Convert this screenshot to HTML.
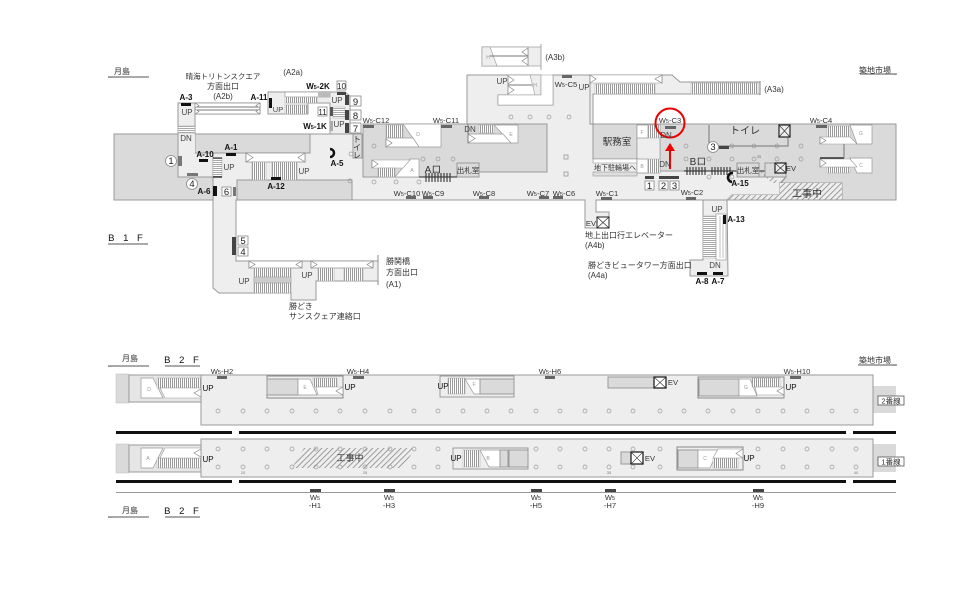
<!DOCTYPE html>
<html><head><meta charset="utf-8"><style>
html,body{margin:0;padding:0;background:#fff}
svg{display:block;filter:blur(.3px)}
text{font-family:"Liberation Sans","Noto Sans CJK JP",sans-serif;fill:#333}
.m{text-anchor:middle;font-size:7.6px}
.u{text-anchor:middle;font-size:8px;fill:#444}
.b{text-anchor:middle;font-size:8px;font-weight:bold;fill:#111}
.j{font-size:8px;fill:#333}
.jm{font-size:8px;text-anchor:middle;fill:#333}
.n{text-anchor:middle;font-size:9.5px;fill:#222}
.s{font-size:5.5px}
.f{fill:#eee;stroke:#999;stroke-width:1}
.g{fill:#dadada;stroke:#999;stroke-width:1}
.w{fill:#fff;stroke:#999;stroke-width:.7}
.d{fill:#444}
.sq{fill:#fff;stroke:#888;stroke-width:.8}
.c circle{fill:none;stroke:#999;stroke-width:.7}
.l{stroke:#777;stroke-width:1;fill:none}
.r{fill:#fff;stroke:#888;stroke-width:.7}
.mk{fill:#666}
.vs{fill:url(#vs);stroke:#aaa;stroke-width:.5}
.hs{fill:url(#hs);stroke:#aaa;stroke-width:.5}
.lt{font-size:5px;fill:#999;text-anchor:middle}
.no{font-size:4px;fill:#777;text-anchor:middle}
</style></head><body>
<svg width="960" height="605" viewBox="0 0 960 605" xmlns="http://www.w3.org/2000/svg">
<defs>
<pattern id="vs" width="2" height="4" patternUnits="userSpaceOnUse"><rect width="2" height="4" fill="#fff"/><rect width="1" height="4" fill="#999"/></pattern>
<pattern id="hs" width="4" height="2" patternUnits="userSpaceOnUse"><rect width="4" height="2" fill="#fff"/><rect width="4" height="1" fill="#aaa"/></pattern>
<pattern id="ht" width="4" height="4" patternUnits="userSpaceOnUse" patternTransform="rotate(45)"><rect width=".8" height="4" fill="#888"/></pattern>
</defs>

<!-- B1F base -->
<polygon class="g" points="114,134 178,134 178,177 213,177 213,200 114,200"/>
<polygon class="f" points="178,103 260,103 260,114 195,114 195,134 310,134 310,153 213,153 213,177 178,177"/>
<polygon class="f" points="268,92 345,92 350,96 350,134 330,134 330,103 308,103 308,114 268,114"/>
<polygon class="f" points="213,153 310,153 310,134 363,134 363,124 467,124 467,75 541,75 541,95 498,95 498,105 553,105 553,75 590,75 590,124 593,124 593,159 660,159 660,171 737,171 759,177 786,177 780,183 780,195 732,195 727,200 728,276 690,276 690,260 703,260 703,200 596,200 596,212 609,212 609,228 585,228 585,200 236,200 236,261 378,261 378,281 316,281 316,300 291,300 291,293 219,293 213,288"/>
<polygon class="f" points="590,75 672,75 680,82 760,82 760,94 593,94 593,124 590,124"/>
<polygon fill="#dadada" stroke="#999" points="195,134 310,134 310,153 213,153 195,153"/>
<polygon fill="#eee" points="179,134 195,134 195,153 179,153"/>
<rect x="178" y="126" width="17" height="7" class="hs"/>
<rect x="237" y="180" width="115" height="20" class="g"/>
<polygon class="g" points="363,124 547,124 547,172 479,172 479,177 363,177"/>
<polygon class="g" points="593,124 896,124 896,200 842,200 842,183 781,183 786,177 759,177 737,171 660,171 660,124"/>
<rect x="593" y="124" width="44" height="35" class="g"/>
<rect x="593" y="159" width="67" height="4" fill="#fff" stroke="#999" stroke-width=".6"/>
<rect x="593" y="172" width="44" height="4" fill="#ddd" stroke="#999" stroke-width=".6"/>
<polygon fill="#eee" points="727,200 732,195 780,195 780,183 842,183 842,200"/>
<polygon fill="url(#ht)" points="727,200 732,195 780,195 780,183 842,183 842,200"/>
<polygon fill="url(#ht)" points="760,172 767,172 780,183 772,183"/>
<line x1="703" y1="200" x2="842" y2="200" stroke="#999"/>
<rect x="353" y="134" width="9" height="24" class="g"/>

<!-- A2 stairs -->
<rect x="195" y="103" width="65" height="11" fill="#fff" stroke="#888" stroke-width=".7"/>
<line x1="195" y1="107" x2="260" y2="107" class="l" stroke-width=".6"/><line x1="195" y1="110" x2="260" y2="110" class="l" stroke-width=".6"/>
<polygon class="r" points="195,103 195,108 199,105.5"/><polygon class="r" points="195,109 195,114 199,111.5"/><polygon class="r" points="260,103 260,108 256,105.5"/><polygon class="r" points="260,109 260,114 256,111.5"/>
<rect x="285" y="92" width="45" height="5" fill="#fff" stroke="#888" stroke-width=".6"/><rect x="318" y="92" width="12" height="5" fill="#bbb"/>
<rect x="285" y="97" width="32" height="6" class="vs"/><rect x="285" y="105" width="22" height="9" class="vs"/>
<rect x="333" y="107" width="12" height="11" class="hs"/><rect x="330" y="107" width="3" height="9" fill="#555"/><rect x="330" y="121" width="3" height="10" fill="#aaa"/>
<rect x="345" y="95" width="4" height="10" class="d"/><rect x="345" y="110" width="4" height="10" class="d"/><rect x="345" y="123" width="4" height="10" class="d"/>

<!-- Main stairs -->
<rect x="246" y="153" width="59" height="9" fill="#fff" stroke="#888" stroke-width=".7"/>
<polygon class="r" points="246,153 246,162 253,157.5"/><polygon class="r" points="305,153 305,162 298,157.5"/>
<rect x="252" y="162" width="14" height="18" class="vs"/><rect x="272" y="162" width="25" height="18" class="vs"/>
<rect x="213" y="158" width="9" height="19" class="hs" stroke="#555"/><line x1="213" y1="158" x2="222" y2="158" stroke="#111"/><line x1="213" y1="177" x2="222" y2="177" stroke="#111" stroke-width="1.2"/>

<!-- D, E, A -->
<polygon class="w" points="403,124 441,124 441,147 419,147"/>
<rect x="386" y="125" width="17" height="13" class="vs"/>
<polygon class="w" points="386,138 413,138 419,147 386,147"/><polygon class="r" points="386,139 386,147 392,143"/>
<polygon class="w" points="494,125 518,125 518,143 511,143"/>
<rect x="479" y="125" width="15" height="8" class="vs"/>
<polygon class="w" points="468,134 503,134 511,143 468,143"/><polygon class="r" points="468,134 468,143 475,138.5"/>
<line x1="468" y1="124" x2="468" y2="143" class="l"/>
<polygon class="w" points="410,159 419,159 419,177 395,177"/>
<polygon fill="#fff" stroke="#999" stroke-width=".6" points="372,160 410,160 403,168 372,168"/><polygon class="r" points="372,160 372,168 378,164"/>
<rect x="378" y="168" width="17" height="9" class="vs"/>
<rect x="457" y="163" width="22" height="14" class="g"/>
<g stroke="#222" stroke-width="1"><line x1="419" y1="177" x2="457" y2="177"/><line x1="426" y1="173" x2="426" y2="182"/><line x1="429" y1="173" x2="429" y2="182"/><line x1="432" y1="173" x2="432" y2="182"/><line x1="435" y1="173" x2="435" y2="182"/><line x1="438" y1="173" x2="438" y2="182"/><line x1="441" y1="173" x2="441" y2="182"/><line x1="444" y1="173" x2="444" y2="182"/><line x1="447" y1="173" x2="447" y2="182"/><line x1="450" y1="173" x2="450" y2="182"/></g>

<!-- H stairs -->
<rect x="482" y="47" width="59" height="19" fill="#eee" stroke="#999" stroke-width=".7"/>
<rect x="482" y="47" width="46" height="19" fill="#fff" stroke="#999" stroke-width=".7"/>
<polygon fill="#eee" stroke="#999" stroke-width=".6" points="482,47 490,47 497,66 482,66"/>
<line x1="490" y1="56" x2="528" y2="56" class="l" stroke-width=".6"/>
<polygon class="r" points="528,48 528,56 522,52"/><polygon class="r" points="528,57 528,65 522,61"/>
<line x1="541" y1="44" x2="541" y2="70" stroke="#aaa"/>
<rect x="508" y="75" width="33" height="20" fill="#fff" stroke="#999" stroke-width=".7"/>
<polygon fill="#eee" stroke="#999" stroke-width=".6" points="530,75 541,75 541,95 535,95"/>
<line x1="508" y1="85" x2="532" y2="85" class="l" stroke-width=".6"/>
<polygon class="r" points="508,76 508,84 514,80"/><polygon class="r" points="508,86 508,94 514,90"/>
<polygon fill="#fff" stroke="#999" stroke-width=".6" points="541,75 553,75 553,105 498,105 498,95 541,95"/>

<!-- A3a -->
<polygon fill="#fff" stroke="#999" stroke-width=".6" points="590,75 662,75 662,83 590,83"/>
<polygon class="r" points="590,75 590,83 596,79"/><polygon class="r" points="662,75 662,83 655,79"/>
<rect x="595" y="84" width="35" height="10" class="vs"/><rect x="620" y="84" width="35" height="10" class="vs"/><rect x="691" y="83" width="67" height="11" class="vs"/>
<line x1="760" y1="81" x2="760" y2="95" stroke="#888"/>

<!-- F B G C -->
<rect x="637" y="125" width="23" height="48" fill="#eee" stroke="#999" stroke-width=".7"/>
<polygon class="w" points="637,125 648,125 648,138 637,138"/><rect x="648" y="125" width="12" height="13" class="vs"/>
<polygon class="w" points="637,159 648,159 648,173 637,173"/><rect x="648" y="159" width="12" height="14" class="vs"/>
<polygon class="w" points="850,125 872,125 872,144 857,144"/><rect x="827" y="126" width="23" height="11" class="vs"/>
<polygon fill="#fff" stroke="#999" stroke-width=".6" points="820,137 850,137 857,144 820,144"/><polygon class="r" points="820,137 820,144 826,140.5"/>
<polygon class="w" points="850,158 872,158 872,173 857,173"/><rect x="827" y="167" width="23" height="6" class="vs"/>
<polygon fill="#fff" stroke="#999" stroke-width=".6" points="820,159 850,159 857,167 820,167"/><polygon class="r" points="820,159 820,167 826,163"/>
<line x1="820" y1="158" x2="844" y2="158" stroke="#111" stroke-width="1.2"/><line x1="844" y1="144" x2="844" y2="158" class="l"/>

<!-- toilet, gates -->
<polyline points="709,125 709,146 788,146 788,125" class="l" stroke-width=".8"/>
<g stroke="#222" stroke-width="1"><line x1="684" y1="171" x2="737" y2="171"/><line x1="687" y1="167" x2="687" y2="175"/><line x1="690" y1="167" x2="690" y2="175"/><line x1="693" y1="167" x2="693" y2="175"/><line x1="696" y1="167" x2="696" y2="175"/><line x1="699" y1="167" x2="699" y2="175"/><line x1="702" y1="167" x2="702" y2="175"/><line x1="705" y1="167" x2="705" y2="175"/><line x1="712" y1="167" x2="712" y2="175"/><line x1="715" y1="167" x2="715" y2="175"/><line x1="718" y1="167" x2="718" y2="175"/><line x1="721" y1="167" x2="721" y2="175"/><line x1="724" y1="167" x2="724" y2="175"/><line x1="727" y1="167" x2="727" y2="175"/><line x1="730" y1="167" x2="730" y2="175"/><line x1="759" y1="171" x2="765" y2="171"/></g>
<rect x="737" y="163" width="22" height="14" class="g"/><rect x="765" y="163" width="21" height="14" class="g"/>
<g stroke="#222" fill="#eee"><rect x="775" y="163" width="11" height="10" stroke-width="1.2"/><path d="M775 163l11 10m0-10l-11 10" fill="none" stroke-width=".6"/><rect x="779" y="125" width="11" height="12" stroke-width="1.2"/><path d="M779 125l11 12m0-12l-11 12" fill="none" stroke-width=".6"/><rect x="597" y="217" width="12" height="11" stroke-width="1" fill="#fff"/><path d="M597 217l12 11m0-11l-12 11" fill="none" stroke-width=".6"/></g>

<!-- A1 stairs -->
<rect x="249" y="261" width="53" height="7" fill="#fff" stroke="#888" stroke-width=".7"/><polygon class="r" points="249,261 249,268 255,264.5"/><polygon class="r" points="302,261 302,268 296,264.5"/>
<rect x="311" y="261" width="62" height="7" fill="#fff" stroke="#888" stroke-width=".7"/><polygon class="r" points="311,261 311,268 317,264.5"/><polygon class="r" points="373,261 373,268 367,264.5"/>
<rect x="254" y="268" width="37" height="25" class="vs"/><rect x="254" y="277" width="37" height="6" fill="#ccc" stroke="#999" stroke-width=".5"/>
<rect x="318" y="268" width="16" height="13" class="vs"/><rect x="344" y="268" width="19" height="13" class="vs"/>
<line x1="378" y1="255" x2="378" y2="261" stroke="#888"/><line x1="378" y1="281" x2="378" y2="285" stroke="#888"/>

<!-- A-13 stairs -->
<rect x="703" y="216" width="13" height="42" class="hs"/>
<rect x="716" y="214" width="10" height="46" fill="#fff" stroke="#999" stroke-width=".7"/><line x1="720" y1="216" x2="720" y2="258" stroke="#999" stroke-width=".6"/><line x1="723" y1="216" x2="723" y2="258" stroke="#999" stroke-width=".6"/>

<!-- columns B1 -->
<g class="c">
<circle cx="351" cy="154" r="2"/><circle cx="350" cy="181" r="2"/><circle cx="374" cy="146" r="2"/><circle cx="374" cy="182" r="2"/><circle cx="396" cy="182" r="2"/><circle cx="419" cy="182" r="2"/><circle cx="423" cy="159" r="2"/><circle cx="438" cy="159" r="2"/><circle cx="453" cy="159" r="2"/><circle cx="511" cy="117" r="2"/><circle cx="530" cy="117" r="2"/><circle cx="549" cy="117" r="2"/><circle cx="569" cy="117" r="2"/>
<circle cx="686" cy="146" r="2"/><circle cx="686" cy="159" r="2"/><circle cx="709" cy="159" r="2"/><circle cx="709" cy="177" r="2"/><circle cx="732" cy="146" r="2"/><circle cx="754" cy="146" r="2"/><circle cx="777" cy="146" r="2"/><circle cx="801" cy="146" r="2"/><circle cx="732" cy="159" r="2"/><circle cx="754" cy="159" r="2"/><circle cx="777" cy="159" r="2"/><circle cx="801" cy="159" r="2"/><circle cx="732" cy="177" r="2"/>
</g>
<rect x="564" y="155" width="4" height="4" fill="none" stroke="#999" stroke-width=".8"/><rect x="564" y="172" width="4" height="4" fill="none" stroke="#999" stroke-width=".8"/>

<!-- black/dark markers -->
<g fill="#111"><rect x="181" y="103" width="10" height="3"/><rect x="269" y="98" width="3" height="10"/><rect x="199" y="159" width="9" height="3"/><rect x="226" y="153" width="10" height="3"/><rect x="271" y="177" width="10" height="3"/><rect x="213" y="186" width="4" height="10"/><rect x="723" y="215" width="3" height="9"/><rect x="697" y="272" width="10" height="3"/><rect x="713" y="272" width="10" height="3"/></g>
<g class="d"><rect x="337" y="92" width="9" height="3"/><rect x="178" y="156" width="4" height="10" fill="#777"/><rect x="187" y="173" width="11" height="3" fill="#777"/><rect x="233" y="187" width="3" height="9" fill="#777"/><rect x="232" y="237" width="4" height="18"/><rect x="645" y="176" width="9" height="3"/><rect x="659" y="176" width="20" height="3"/><rect x="719" y="146" width="10" height="3"/></g>
<path d="M330 149a4 4 0 0 1 0 8" fill="none" stroke="#111" stroke-width="2.5"/><path d="M733 173a4.5 4.500 0 0 0 -1 9" fill="none" stroke="#111" stroke-width="2.5"/>
<g class="mk"><rect x="363" y="125" width="11" height="3"/><rect x="441" y="125" width="11" height="3"/><rect x="562" y="75" width="10" height="3"/><rect x="406" y="196" width="10" height="3"/><rect x="423" y="196" width="10" height="3"/><rect x="479" y="196" width="10" height="3"/><rect x="539" y="196" width="10" height="3"/><rect x="553" y="196" width="10" height="3"/><rect x="601" y="197" width="11" height="3"/><rect x="686" y="197" width="10" height="3"/><rect x="665" y="126" width="11" height="3"/><rect x="816" y="125" width="11" height="3"/></g>

<!-- number boxes -->
<g class="sq"><rect x="337" y="81" width="9" height="9"/><rect x="350" y="96" width="11" height="10"/><rect x="350" y="110" width="11" height="10"/><rect x="350" y="123" width="11" height="10"/><rect x="318" y="107" width="9" height="9"/><rect x="222" y="187" width="9" height="9"/><rect x="238" y="236" width="10" height="9"/><rect x="238" y="247" width="10" height="9"/><rect x="645" y="181" width="9" height="9"/><rect x="659" y="181" width="9" height="9"/><rect x="670" y="181" width="9" height="9"/><circle cx="171" cy="161" r="5.5"/><circle cx="192" cy="184" r="5.5"/><circle cx="713" cy="147" r="5.5"/></g>

<!-- red -->
<circle cx="670" cy="123" r="14.5" fill="none" stroke="#e00" stroke-width="2"/>
<line x1="670" y1="169" x2="670" y2="148" stroke="#e00" stroke-width="2"/><polygon points="670,143 665,151 675,151" fill="#e00"/>

<!-- B1 labels -->
<text x="122" y="74" class="jm">月島</text><line x1="108" y1="77" x2="149" y2="77" stroke="#555"/><path d="M108 78l6-1h-2z" fill="#333"/>
<text x="875" y="73" class="jm">築地市場</text><line x1="860" y1="74" x2="897" y2="74" stroke="#555"/><path d="M897 75l-6-1h2z" fill="#333"/>
<text x="223" y="79" class="jm" style="font-size:7.5px">晴海トリトンスクエア</text><text x="223" y="89" class="jm">方面出口</text><text x="223" y="99" class="jm">(A2b)</text><text x="293" y="75" class="jm">(A2a)</text>
<text x="555" y="60" class="jm">(A3b)</text><text x="774" y="92" class="jm">(A3a)</text>
<text x="127" y="241" text-anchor="middle" font-size="9.5" letter-spacing="3" style="fill:#111">B 1 F</text><line x1="108" y1="244" x2="148" y2="244" stroke="#555"/>
<text x="318" y="89" class="b">W<tspan class="s">5</tspan>-2K</text><text x="315" y="129" class="b">W<tspan class="s">5</tspan>-1K</text>
<text x="186" y="100" class="b">A-3</text><text x="259" y="100" class="b">A-11</text><text x="205" y="157" class="b">A-10</text><text x="231" y="150" class="b">A-1</text><text x="337" y="166" class="b">A-5</text><text x="276" y="189" class="b">A-12</text><text x="204" y="194" class="b">A-6</text><text x="740" y="186" class="b">A-15</text><text x="736" y="222" class="b">A-13</text><text x="702" y="284" class="b">A-8</text><text x="718" y="284" class="b">A-7</text>
<text x="341.5" y="89" class="n" style="font-size:8px">10</text><text x="355.5" y="105" class="n">9</text><text x="355.5" y="119" class="n">8</text><text x="355.5" y="132" class="n">7</text><text x="322.5" y="115" class="n" style="font-size:8px">11</text><text x="226.5" y="195" class="n">6</text><text x="243" y="244" class="n">5</text><text x="243" y="255" class="n">4</text><text x="649.5" y="189" class="n">1</text><text x="663.5" y="189" class="n">2</text><text x="674.5" y="189" class="n">3</text><text x="171" y="164" class="n">1</text><text x="192" y="187" class="n">4</text><text x="713" y="150" class="n">3</text>
<text x="187" y="115" class="u">UP</text><text x="186" y="141" class="u">DN</text><text x="229" y="170" class="u">UP</text><text x="304" y="174" class="u">UP</text><text x="278" y="112" class="u" style="font-size:7.5px">UP</text><text x="337" y="103" class="u">UP</text><text x="339" y="127" class="u">UP</text><text x="502" y="84" class="u">UP</text><text x="584" y="90" class="u">UP</text><text x="470" y="132" class="u">DN</text><text x="666" y="138" class="u">DN</text><text x="665" y="167" class="u">DN</text><text x="717" y="212" class="u">UP</text><text x="715" y="268" class="u">DN</text><text x="244" y="284" class="u">UP</text><text x="307" y="278" class="u">UP</text>
<text x="376" y="123" class="m">W<tspan class="s">5</tspan>-C12</text><text x="446" y="123" class="m">W<tspan class="s">5</tspan>-C11</text><text x="566" y="87" class="m">W<tspan class="s">5</tspan>-C5</text><text x="407" y="196" class="m">W<tspan class="s">5</tspan>-C10</text><text x="433" y="196" class="m">W<tspan class="s">5</tspan>-C9</text><text x="484" y="196" class="m">W<tspan class="s">5</tspan>-C8</text><text x="538" y="196" class="m">W<tspan class="s">5</tspan>-C7</text><text x="564" y="196" class="m">W<tspan class="s">5</tspan>-C6</text><text x="607" y="196" class="m">W<tspan class="s">5</tspan>-C1</text><text x="692" y="195" class="m">W<tspan class="s">5</tspan>-C2</text><text x="670" y="123" class="m">W<tspan class="s">5</tspan>-C3</text><text x="821" y="123" class="m">W<tspan class="s">5</tspan>-C4</text>
<text x="617" y="145" class="jm" style="font-size:9.5px">駅務室</text><text x="615" y="170" class="jm" style="font-size:7px">地下駐輪場へ</text><text x="468" y="173" class="jm" style="font-size:7.5px">出札室</text><text x="748" y="173" class="jm" style="font-size:7.5px">出札室</text><text x="433" y="173" class="jm" style="font-size:10px">Aロ</text><text x="698" y="165" class="jm" style="font-size:10px">Bロ</text><text x="745" y="134" class="jm" style="font-size:10px">トイレ</text><text x="807" y="197" class="jm" style="font-size:10px">工事中</text>
<text x="357" y="142" class="jm">ト</text><text x="357" y="150" class="jm">イ</text><text x="357" y="158" class="jm">レ</text>
<text x="791" y="171" class="m">EV</text><text x="591" y="226" class="m">EV</text>
<text x="585" y="238" class="j">地上出口行エレベーター</text><text x="585" y="248" class="j">(A4b)</text><text x="588" y="268" class="j">勝どきビュータワー方面出口</text><text x="588" y="278" class="j">(A4a)</text>
<text x="386" y="264" class="j">勝鬨橋</text><text x="386" y="275" class="j">方面出口</text><text x="386" y="287" class="j">(A1)</text>
<text x="289" y="309" class="j">勝どき</text><text x="289" y="319" class="j">サンスクェア連絡口</text>
<text x="418" y="136" class="lt">D</text><text x="511" y="136" class="lt">E</text><text x="412" y="172" class="lt">A</text><text x="488" y="59" class="lt">H</text><text x="535" y="87" class="lt">H</text><text x="642" y="134" class="lt">F</text><text x="642" y="168" class="lt">B</text><text x="861" y="135" class="lt">G</text><text x="861" y="167" class="lt">C</text>

<!-- B2F -->
<text x="130" y="361" class="jm">月島</text><line x1="108" y1="366" x2="149" y2="366" stroke="#555"/><path d="M108 367l6-1h-2z" fill="#333"/>
<text x="183" y="363" text-anchor="middle" font-size="9.5" letter-spacing="3" style="fill:#111">B 2 F</text><line x1="165" y1="366" x2="200" y2="366" stroke="#555"/>
<text x="875" y="363" class="jm">築地市場</text><line x1="858" y1="365" x2="897" y2="365" stroke="#555"/><path d="M897 366l-6-1h2z" fill="#333"/>
<text x="130" y="513" class="jm">月島</text><line x1="108" y1="517" x2="149" y2="517" stroke="#555"/><path d="M108 518l6-1h-2z" fill="#333"/>
<text x="183" y="514" text-anchor="middle" font-size="9.5" letter-spacing="3" style="fill:#111">B 2 F</text><line x1="165" y1="517" x2="200" y2="517" stroke="#555"/>

<rect x="116" y="374" width="13" height="29" fill="#dadada" stroke="#bbb" stroke-width=".5"/><rect x="116" y="444" width="13" height="29" fill="#dadada" stroke="#bbb" stroke-width=".5"/>
<rect x="873" y="386" width="23" height="27" fill="#dadada"/><rect x="873" y="444" width="23" height="28" fill="#dadada"/>
<rect x="129" y="375" width="72" height="27" fill="#e6e6e6" stroke="#999"/><rect x="129" y="445" width="72" height="27" fill="#e6e6e6" stroke="#999"/>
<rect x="201" y="375" width="672" height="50" class="f"/><rect x="201" y="439" width="672" height="38" class="f"/>

<rect x="116" y="431" width="780" height="3" fill="#111"/><rect x="232" y="429" width="7" height="6" fill="#fff"/><rect x="846" y="429" width="7" height="6" fill="#fff"/>
<rect x="116" y="480" width="780" height="3" fill="#111"/><rect x="232" y="478" width="7" height="6" fill="#fff"/><rect x="846" y="478" width="7" height="6" fill="#fff"/>
<line x1="116" y1="492.5" x2="896" y2="492.5" stroke="#999"/>
<g class="d"><rect x="310" y="489" width="11" height="3"/><rect x="384" y="489" width="11" height="3"/><rect x="531" y="489" width="11" height="3"/><rect x="605" y="489" width="11" height="3"/><rect x="753" y="489" width="11" height="3"/></g>
<g class="mk"><rect x="217" y="376" width="10" height="3"/><rect x="353" y="376" width="11" height="3"/><rect x="545" y="376" width="10" height="3"/><rect x="790" y="376" width="11" height="3"/></g>

<!-- stairs B2 top -->
<polygon class="w" points="141,378 153,378 163,398 141,398"/>
<rect x="157" y="378" width="44" height="10" class="vs"/><polygon fill="#fff" stroke="#999" stroke-width=".6" points="160,388 201,388 201,398 165,398"/><polygon class="r" points="201,389 201,397 194,393"/>
<rect x="267" y="376" width="76" height="22" fill="#eee" stroke="#888"/><rect x="267" y="379" width="31" height="16" class="g"/>
<polygon class="w" points="298,379 310,379 317,395 298,395"/><rect x="313" y="378" width="24" height="9" class="vs"/><polygon fill="#fff" stroke="#999" stroke-width=".6" points="316,387 343,387 343,395 318,395"/><polygon class="r" points="343,387 343,395 336,391"/>
<rect x="440" y="376" width="74" height="21" fill="#eee" stroke="#888" stroke-width=".8"/><rect x="448" y="378" width="17" height="16" class="vs"/><polygon class="w" points="465,379 480,379 480,394 474,394"/><rect x="480" y="379" width="34" height="15" class="g"/>
<rect x="608" y="377" width="46" height="11" class="g"/>
<rect x="654" y="377" width="12" height="11" fill="#fff" stroke="#111" stroke-width="1.2"/><path d="M654 377l12 11m0-11l-12 11" stroke="#333" stroke-width=".6"/>
<rect x="698" y="377" width="86" height="21" fill="#eee" stroke="#888"/><rect x="699" y="379" width="40" height="17" class="g"/><polygon class="w" points="739,379 750,379 757,396 739,396"/><rect x="752" y="378" width="28" height="9" class="vs"/><polygon fill="#fff" stroke="#999" stroke-width=".6" points="755,387 784,387 784,395 757,395"/><polygon class="r" points="784,387 784,395 777,391"/>

<!-- stairs B2 bottom -->
<polygon class="w" points="141,448 163,448 153,468 141,468"/>
<rect x="157" y="458" width="44" height="10" class="vs"/><polygon fill="#fff" stroke="#999" stroke-width=".6" points="165,448 201,448 201,458 160,458"/><polygon class="r" points="201,449 201,457 194,453"/>
<polygon fill="url(#ht)" points="292,468 304,448 415,448 403,468"/>
<rect x="453" y="448" width="75" height="21" fill="#eee" stroke="#888" stroke-width=".8"/><rect x="463" y="450" width="17" height="17" class="vs"/><polygon class="w" points="480,450 500,450 500,467 489,467"/><rect x="500" y="450" width="8" height="17" class="g"/><rect x="509" y="450" width="19" height="17" class="g"/>
<rect x="621" y="452" width="10" height="12" class="g"/><rect x="631" y="452" width="12" height="12" fill="#fff" stroke="#111" stroke-width="1.2"/><path d="M631 452l12 12m0-12l-12 12" stroke="#333" stroke-width=".6"/>
<rect x="677" y="447" width="66" height="23" fill="#eee" stroke="#888"/><rect x="678" y="450" width="20" height="18" class="g"/><polygon class="w" points="698,450 718,450 710,468 698,468"/><rect x="713" y="458" width="25" height="10" class="vs"/><polygon fill="#fff" stroke="#999" stroke-width=".6" points="718,449 743,449 743,458 713,458"/><polygon class="r" points="743,449 743,458 736,453.5"/>

<!-- B2 columns -->
<g class="c">
<circle cx="218" cy="411" r="2"/><circle cx="243" cy="411" r="2"/><circle cx="267" cy="411" r="2"/><circle cx="292" cy="411" r="2"/><circle cx="316" cy="411" r="2"/><circle cx="340" cy="411" r="2"/><circle cx="365" cy="411" r="2"/><circle cx="390" cy="411" r="2"/><circle cx="414" cy="411" r="2"/><circle cx="438" cy="411" r="2"/><circle cx="463" cy="411" r="2"/><circle cx="487" cy="411" r="2"/><circle cx="511" cy="411" r="2"/><circle cx="536" cy="411" r="2"/><circle cx="560" cy="411" r="2"/><circle cx="585" cy="411" r="2"/><circle cx="609" cy="411" r="2"/><circle cx="633" cy="411" r="2"/><circle cx="660" cy="411" r="2"/><circle cx="684" cy="411" r="2"/><circle cx="708" cy="411" r="2"/><circle cx="733" cy="411" r="2"/><circle cx="758" cy="411" r="2"/><circle cx="783" cy="411" r="2"/><circle cx="807" cy="411" r="2"/><circle cx="832" cy="411" r="2"/><circle cx="856" cy="411" r="2"/>
<circle cx="218" cy="449" r="2"/><circle cx="243" cy="449" r="2"/><circle cx="267" cy="449" r="2"/><circle cx="292" cy="449" r="2"/><circle cx="316" cy="449" r="2"/><circle cx="340" cy="449" r="2"/><circle cx="365" cy="449" r="2"/><circle cx="390" cy="449" r="2"/><circle cx="414" cy="449" r="2"/><circle cx="438" cy="449" r="2"/><circle cx="536" cy="449" r="2"/><circle cx="560" cy="449" r="2"/><circle cx="585" cy="449" r="2"/><circle cx="609" cy="449" r="2"/><circle cx="633" cy="449" r="2"/><circle cx="660" cy="449" r="2"/><circle cx="758" cy="449" r="2"/><circle cx="783" cy="449" r="2"/><circle cx="807" cy="449" r="2"/><circle cx="832" cy="449" r="2"/><circle cx="856" cy="449" r="2"/>
<circle cx="218" cy="467" r="2"/><circle cx="243" cy="467" r="2"/><circle cx="267" cy="467" r="2"/><circle cx="292" cy="467" r="2"/><circle cx="316" cy="467" r="2"/><circle cx="340" cy="467" r="2"/><circle cx="365" cy="467" r="2"/><circle cx="390" cy="467" r="2"/><circle cx="414" cy="467" r="2"/><circle cx="438" cy="467" r="2"/><circle cx="536" cy="467" r="2"/><circle cx="560" cy="467" r="2"/><circle cx="585" cy="467" r="2"/><circle cx="609" cy="467" r="2"/><circle cx="633" cy="467" r="2"/><circle cx="660" cy="467" r="2"/><circle cx="758" cy="467" r="2"/><circle cx="783" cy="467" r="2"/><circle cx="807" cy="467" r="2"/><circle cx="832" cy="467" r="2"/><circle cx="856" cy="467" r="2"/>
</g>

<!-- B2 labels -->
<text x="222" y="374" class="m">W<tspan class="s">5</tspan>-H2</text><text x="358" y="374" class="m">W<tspan class="s">5</tspan>-H4</text><text x="550" y="374" class="m">W<tspan class="s">5</tspan>-H6</text><text x="797" y="374" class="m">W<tspan class="s">5</tspan>-H10</text>
<text x="315" y="500" class="m">W<tspan class="s">5</tspan></text><text x="315" y="508" class="m">-H1</text><text x="389" y="500" class="m">W<tspan class="s">5</tspan></text><text x="389" y="508" class="m">-H3</text><text x="536" y="500" class="m">W<tspan class="s">5</tspan></text><text x="536" y="508" class="m">-H5</text><text x="610" y="500" class="m">W<tspan class="s">5</tspan></text><text x="610" y="508" class="m">-H7</text><text x="758" y="500" class="m">W<tspan class="s">5</tspan></text><text x="758" y="508" class="m">-H9</text>
<text x="208" y="391" class="u" style="fill:#111">UP</text><text x="350" y="390" class="u" style="fill:#111">UP</text><text x="443" y="389" class="u" style="fill:#111">UP</text><text x="791" y="390" class="u" style="fill:#111">UP</text><text x="208" y="462" class="u" style="fill:#111">UP</text><text x="456" y="461" class="u" style="fill:#111">UP</text><text x="749" y="461" class="u" style="fill:#111">UP</text>
<text x="673" y="385" class="m">EV</text><text x="650" y="461" class="m">EV</text>
<text x="350" y="461" class="jm" style="font-size:9px">工事中</text>
<rect x="878" y="396" width="26" height="9" fill="#fff" stroke="#555" stroke-width=".8"/><text x="891" y="403.5" class="jm" style="font-size:7.5px">2番線</text>
<rect x="878" y="457" width="26" height="9" fill="#fff" stroke="#555" stroke-width=".8"/><text x="891" y="464.5" class="jm" style="font-size:7.5px">1番線</text>
<text x="243" y="474" class="no">20</text><text x="365" y="474" class="no">25</text><text x="609" y="474" class="no">35</text><text x="856" y="474" class="no">40</text><text x="759" y="158" class="no">35</text>
<text x="149" y="391" class="lt">D</text><text x="305" y="389" class="lt">E</text><text x="474" y="386" class="lt">F</text><text x="746" y="389" class="lt">G</text><text x="148" y="460" class="lt">A</text><text x="488" y="460" class="lt">B</text><text x="705" y="460" class="lt">C</text>
</svg>
</body></html>
